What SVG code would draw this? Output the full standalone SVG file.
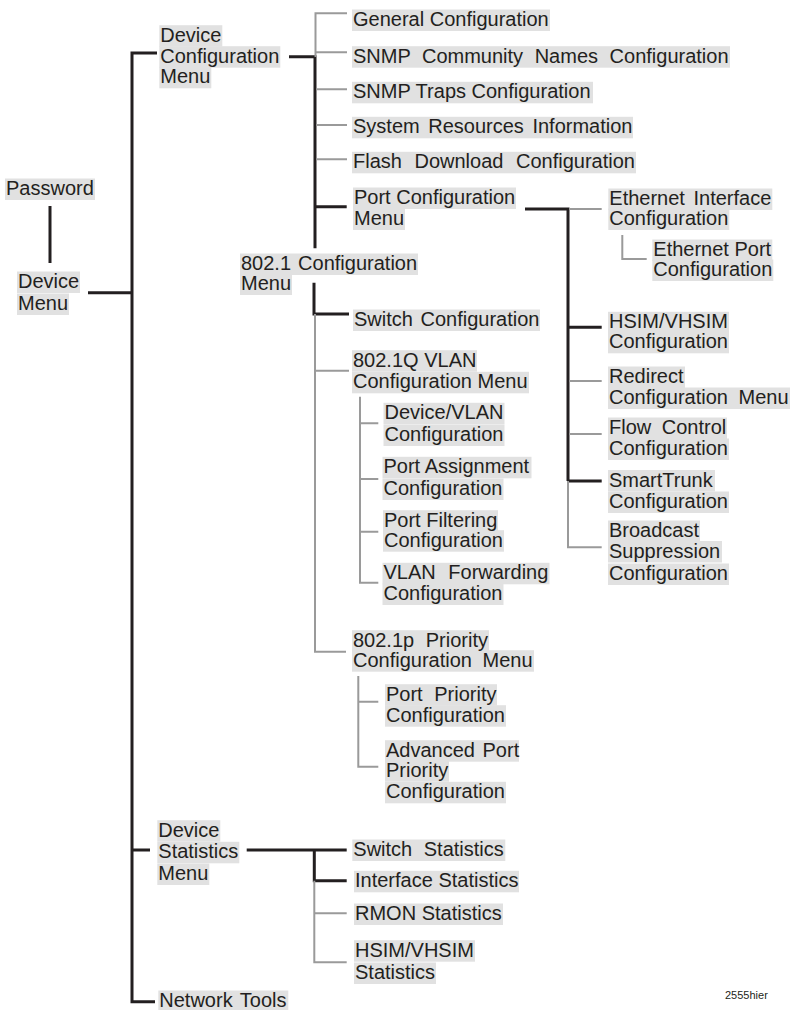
<svg xmlns="http://www.w3.org/2000/svg" width="793" height="1010" viewBox="0 0 793 1010">
<style>
.t{font-family:"Liberation Sans",Arial,Helvetica,sans-serif;font-size:20px;fill:#231f20}
.s{font-family:"Liberation Sans",Arial,Helvetica,sans-serif;font-size:11px;fill:#231f20}
.hl{fill:#e1e1e1}
.k{stroke:#231f20;stroke-width:3;fill:none}
.g{stroke:#9a9a9a;stroke-width:2;fill:none}
</style>
<rect width="793" height="1010" fill="#ffffff"/>
<g id="connectors">
  <path class="k" d="M50,206V263"/>
  <path class="k" d="M88,292.7H132"/>
  <path class="k" d="M157,53H132V1001.7H155M132,850H150"/>
  <path class="k" d="M289,56.7H315V248.3M315,206.7H346.7"/>
  <path class="g" d="M347,13.3H315.5V57M316,52.3H347M316,89.3H347M316,125H347M316,159.3H347"/>
  <path class="k" d="M525,209H568V481M568,327.3H601.7M568,481H601.7"/>
  <path class="g" d="M569,209H601.7M569,381H601.7M569,434H601.7M568,481V547.3H601.7"/>
  <path class="g" d="M622.3,235V259H646.7"/>
  <path class="k" d="M314,282.7V314H349"/>
  <path class="g" d="M315,314V651.7H346M316,370.7H349"/>
  <path class="g" d="M360,396.7V582.7H378.3M360,423.3H378.3M360,479H378.3M360,531.7H378.3"/>
  <path class="g" d="M358.3,676V766.7H378.3M358.3,701.7H378.3"/>
  <path class="k" d="M246.7,850H346.7M314.3,850V880.7H346.7"/>
  <path class="g" d="M314.3,880.7V962.3H346.7M314.3,913.3H346.7"/>
</g>
<g id="password">
  <rect class="hl" x="5" y="178.5" width="90" height="21.5"/>
  <text class="t" x="6" y="195">Password</text>
</g>
<g id="device-menu">
  <rect class="hl" x="17" y="271.5" width="63" height="21.5"/>
  <rect class="hl" x="17" y="293.5" width="52" height="21.5"/>
  <text class="t"><tspan x="18" y="288">Device</tspan><tspan x="18" y="310">Menu</tspan></text>
</g>
<g id="device-config-menu">
  <rect class="hl" x="159.3" y="25.2" width="63" height="21.5"/>
  <rect class="hl" x="159.3" y="46.2" width="121" height="21.5"/>
  <rect class="hl" x="159.3" y="66.8" width="52" height="21.5"/>
  <text class="t"><tspan x="160.3" y="41.7">Device</tspan><tspan x="160.3" y="62.7">Configuration</tspan><tspan x="160.3" y="83.3">Menu</tspan></text>
</g>
<g id="general-config">
  <rect class="hl" x="352" y="9.5" width="198" height="21.5"/>
  <text class="t" x="353" y="26">General Configuration</text>
</g>
<g id="snmp-community">
  <rect class="hl" x="352" y="46.2" width="378" height="21.5"/>
  <text class="t" x="353" y="62.7" word-spacing="6">SNMP Community Names Configuration</text>
</g>
<g id="snmp-traps">
  <rect class="hl" x="352" y="81.8" width="241" height="21.5"/>
  <text class="t" x="353" y="98.3">SNMP Traps Configuration</text>
</g>
<g id="system-resources">
  <rect class="hl" x="352" y="116.8" width="281" height="21.5"/>
  <text class="t" x="353" y="133.3" word-spacing="3">System Resources Information</text>
</g>
<g id="flash-download">
  <rect class="hl" x="352" y="151.8" width="284" height="21.5"/>
  <text class="t" x="353" y="168.3" word-spacing="7">Flash Download Configuration</text>
</g>
<g id="port-config-menu">
  <rect class="hl" x="353" y="187.5" width="163" height="21.5"/>
  <rect class="hl" x="353" y="208.5" width="52" height="21.5"/>
  <text class="t"><tspan x="354" y="204">Port Configuration</tspan><tspan x="354" y="225">Menu</tspan></text>
</g>
<g id="dot1-config-menu">
  <rect class="hl" x="240" y="253.5" width="178" height="21.5"/>
  <rect class="hl" x="240" y="273.5" width="52" height="21.5"/>
  <text class="t" word-spacing="1.5"><tspan x="241" y="270">802.1 Configuration</tspan><tspan x="241" y="290">Menu</tspan></text>
</g>
<g id="switch-config">
  <rect class="hl" x="353" y="309.5" width="187" height="21.5"/>
  <text class="t" x="354" y="326" word-spacing="2">Switch Configuration</text>
</g>
<g id="dot1q-vlan-menu">
  <rect class="hl" x="352" y="350.2" width="125" height="21.5"/>
  <rect class="hl" x="352" y="371.8" width="177" height="21.5"/>
  <text class="t"><tspan x="353" y="366.7">802.1Q VLAN</tspan><tspan x="353" y="388.3">Configuration Menu</tspan></text>
</g>
<g id="device-vlan-config">
  <rect class="hl" x="383.5" y="402.8" width="121" height="21.5"/>
  <rect class="hl" x="383.5" y="424.5" width="121" height="21.5"/>
  <text class="t"><tspan x="384.5" y="419.3">Device/VLAN</tspan><tspan x="384.5" y="441">Configuration</tspan></text>
</g>
<g id="port-assignment-config">
  <rect class="hl" x="382.5" y="456.8" width="149" height="21.5"/>
  <rect class="hl" x="382.5" y="478.5" width="121" height="21.5"/>
  <text class="t"><tspan x="383.5" y="473.3">Port Assignment</tspan><tspan x="383.5" y="495">Configuration</tspan></text>
</g>
<g id="port-filtering-config">
  <rect class="hl" x="383" y="510.2" width="115" height="21.5"/>
  <rect class="hl" x="383" y="530.2" width="121" height="21.5"/>
  <text class="t"><tspan x="384" y="526.7">Port Filtering</tspan><tspan x="384" y="546.7">Configuration</tspan></text>
</g>
<g id="vlan-forwarding-config">
  <rect class="hl" x="382.5" y="562.8" width="167" height="21.5"/>
  <rect class="hl" x="382.5" y="583.5" width="121" height="21.5"/>
  <text class="t" word-spacing="7"><tspan x="383.5" y="579.3">VLAN Forwarding</tspan><tspan x="383.5" y="600">Configuration</tspan></text>
</g>
<g id="dot1p-priority-menu">
  <rect class="hl" x="352" y="630.2" width="137" height="21.5"/>
  <rect class="hl" x="352" y="650.2" width="182" height="21.5"/>
  <text class="t"><tspan x="353" y="646.7" word-spacing="6">802.1p Priority</tspan><tspan x="353" y="666.7" word-spacing="5">Configuration Menu</tspan></text>
</g>
<g id="port-priority-config">
  <rect class="hl" x="385" y="684.2" width="112" height="21.5"/>
  <rect class="hl" x="385" y="705.2" width="121" height="21.5"/>
  <text class="t" word-spacing="6"><tspan x="386" y="700.7">Port Priority</tspan><tspan x="386" y="721.7">Configuration</tspan></text>
</g>
<g id="advanced-port-priority-config">
  <rect class="hl" x="385" y="740.2" width="134" height="21.5"/>
  <rect class="hl" x="385" y="760.2" width="64" height="21.5"/>
  <rect class="hl" x="385" y="781.8" width="121" height="21.5"/>
  <text class="t" word-spacing="2"><tspan x="386" y="756.7">Advanced Port</tspan><tspan x="386" y="776.7">Priority</tspan><tspan x="386" y="798.3">Configuration</tspan></text>
</g>
<g id="ethernet-interface-config">
  <rect class="hl" x="608.3" y="188.5" width="164" height="21.5"/>
  <rect class="hl" x="608.3" y="208.5" width="121" height="21.5"/>
  <text class="t" word-spacing="3"><tspan x="609.3" y="205">Ethernet Interface</tspan><tspan x="609.3" y="225">Configuration</tspan></text>
</g>
<g id="ethernet-port-config">
  <rect class="hl" x="652.3" y="239.5" width="120" height="21.5"/>
  <rect class="hl" x="652.3" y="259.5" width="121" height="21.5"/>
  <text class="t"><tspan x="653.3" y="256">Ethernet Port</tspan><tspan x="653.3" y="276">Configuration</tspan></text>
</g>
<g id="hsim-vhsim-config">
  <rect class="hl" x="608" y="311.8" width="121" height="21.5"/>
  <rect class="hl" x="608" y="331.8" width="121" height="21.5"/>
  <text class="t"><tspan x="609" y="328.3">HSIM/VHSIM</tspan><tspan x="609" y="348.3">Configuration</tspan></text>
</g>
<g id="redirect-config-menu">
  <rect class="hl" x="608" y="366.5" width="77" height="21.5"/>
  <rect class="hl" x="608" y="387.5" width="182" height="21.5"/>
  <text class="t" word-spacing="5"><tspan x="609" y="383">Redirect</tspan><tspan x="609" y="404">Configuration Menu</tspan></text>
</g>
<g id="flow-control-config">
  <rect class="hl" x="608" y="417.5" width="119" height="21.5"/>
  <rect class="hl" x="608" y="438.5" width="121" height="21.5"/>
  <text class="t" word-spacing="5"><tspan x="609" y="434">Flow Control</tspan><tspan x="609" y="455">Configuration</tspan></text>
</g>
<g id="smarttrunk-config">
  <rect class="hl" x="608" y="470" width="107" height="21.5"/>
  <rect class="hl" x="608" y="491.5" width="121" height="21.5"/>
  <text class="t"><tspan x="609" y="486.5">SmartTrunk</tspan><tspan x="609" y="508">Configuration</tspan></text>
</g>
<g id="broadcast-suppression-config">
  <rect class="hl" x="608" y="520.5" width="92" height="21.5"/>
  <rect class="hl" x="608" y="541" width="114" height="21.5"/>
  <rect class="hl" x="608" y="563.5" width="121" height="21.5"/>
  <text class="t"><tspan x="609" y="537">Broadcast</tspan><tspan x="609" y="557.5">Suppression</tspan><tspan x="609" y="580">Configuration</tspan></text>
</g>
<g id="device-statistics-menu">
  <rect class="hl" x="157.3" y="820.2" width="63" height="21.5"/>
  <rect class="hl" x="157.3" y="841.8" width="82" height="21.5"/>
  <rect class="hl" x="157.3" y="863.5" width="52" height="21.5"/>
  <text class="t"><tspan x="158.3" y="836.7">Device</tspan><tspan x="158.3" y="858.3">Statistics</tspan><tspan x="158.3" y="880">Menu</tspan></text>
</g>
<g id="switch-statistics">
  <rect class="hl" x="352.3" y="839.5" width="153" height="21.5"/>
  <text class="t" x="353.3" y="856" word-spacing="6">Switch Statistics</text>
</g>
<g id="interface-statistics">
  <rect class="hl" x="354" y="870.8" width="165" height="21.5"/>
  <text class="t" x="355" y="887.3">Interface Statistics</text>
</g>
<g id="rmon-statistics">
  <rect class="hl" x="354" y="903.5" width="149" height="21.5"/>
  <text class="t" x="355" y="920">RMON Statistics</text>
</g>
<g id="hsim-vhsim-statistics">
  <rect class="hl" x="354" y="940.2" width="121" height="21.5"/>
  <rect class="hl" x="354" y="962.5" width="82" height="21.5"/>
  <text class="t"><tspan x="355" y="956.7">HSIM/VHSIM</tspan><tspan x="355" y="979">Statistics</tspan></text>
</g>
<g id="network-tools">
  <rect class="hl" x="158.3" y="990.5" width="130" height="21.5"/>
  <text class="t" x="159.3" y="1007" word-spacing="2">Network Tools</text>
</g>
<g id="figure-label">
  <text class="s" x="725" y="999">2555hier</text>
</g>
</svg>
